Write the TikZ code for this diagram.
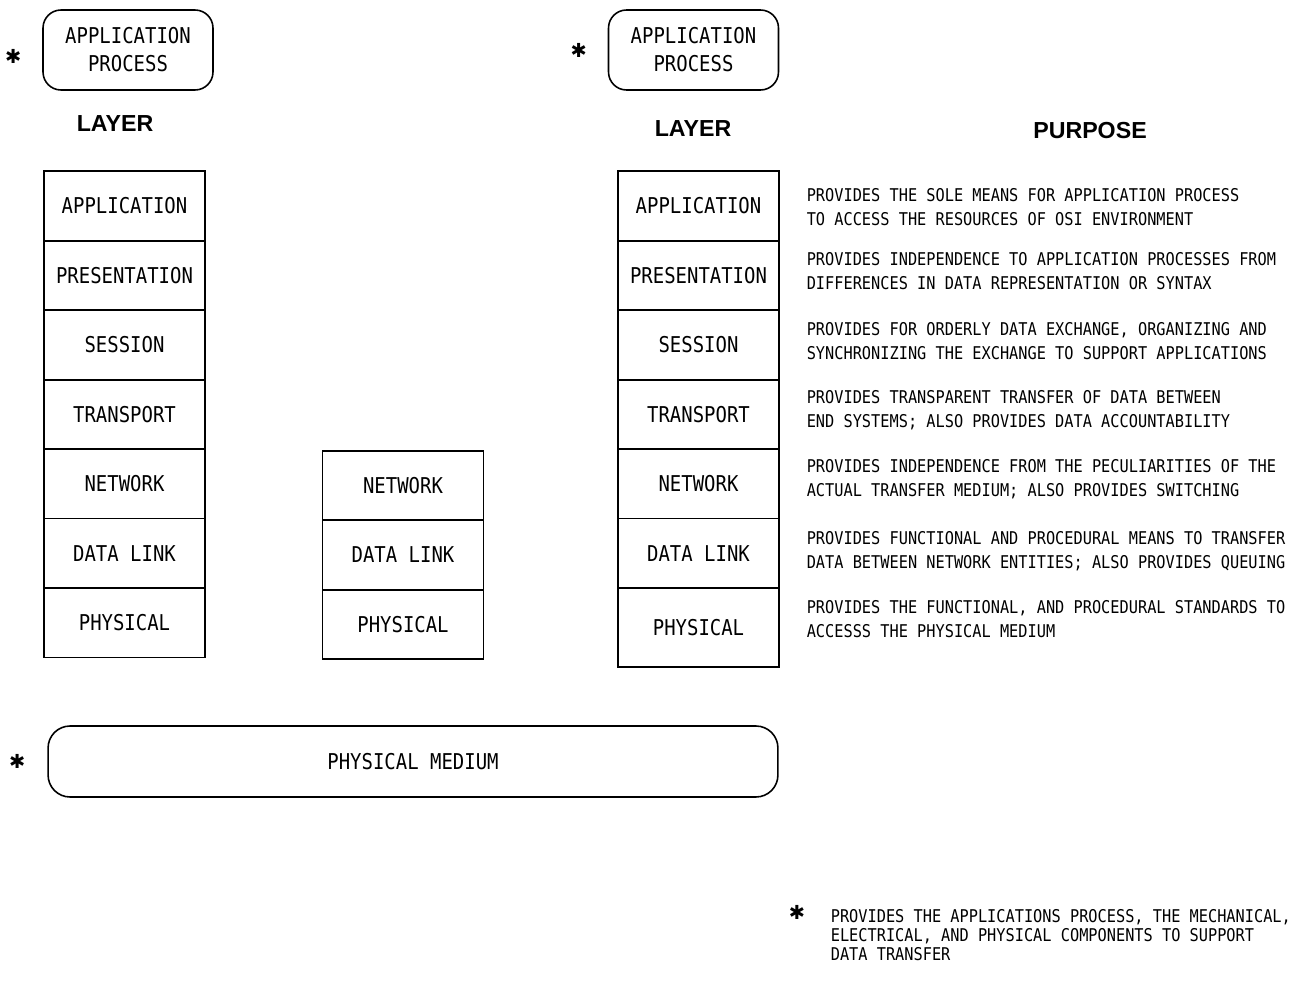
\documentclass[tikz,border=0pt]{standalone}
\usepackage{fontspec}
\usepackage{tikz}
\usetikzlibrary{positioning}
\newfontfamily\plotfont[FakeStretch=0.87]{DejaVu Sans Mono}
\newfontfamily\headfamily{Liberation Sans}
\newfontfamily\symfont{DejaVu Sans}
\newcommand{\boxfont}{\plotfont\fontsize{12.4}{16}\selectfont}
\newcommand{\purposefont}{\plotfont\fontsize{10}{13.5}\selectfont}
\newcommand{\notefont}{\plotfont\fontsize{10}{10.6}\selectfont}
\newcommand{\headfont}{\headfamily\bfseries\fontsize{13.2}{16}\selectfont}

\begin{document}
\begin{tikzpicture}[x=0.02cm, y=-0.02cm, node distance=0pt, line width=0.9pt]
  \tikzstyle{layerbox}=[draw,outer sep=0pt,inner sep=0pt,minimum width=3.22cm,minimum height=1.39cm,font=\boxfont]
  \tikzstyle{procbox}=[draw,rounded corners=0.36cm,outer sep=0pt,minimum width=3.4cm,minimum height=1.6cm,align=center,font=\boxfont]
  \tikzstyle{mediumbox}=[draw,rounded corners=0.44cm,outer sep=0pt,minimum width=14.6cm,minimum height=1.42cm,font=\boxfont]
  \tikzstyle{purpose}=[anchor=west,align=left,inner sep=0pt,font=\purposefont]
  \tikzstyle{heading}=[font=\headfont]
  \tikzstyle{starmark}=[inner sep=0pt,font=\symfont\bfseries\fontsize{11}{11}\selectfont]
  \useasboundingbox (0,0) rectangle (1297,989);
  % application process boxes
  \node[procbox] (lproc) at (128,50) {APPLICATION\\PROCESS};
  \node[starmark,left=0.42cm of lproc,yshift=-0.12cm] (lstar) {✱};
  \node[procbox] (rproc) at (693.5,50) {APPLICATION\\PROCESS};
  \node[starmark,left=0.42cm of rproc] (rstar) {✱};
  \node[heading] (llayer) at (115,124) {LAYER};
  \node[heading] (rlayer) at (693,129) {LAYER};
  \node[heading] (purp) at (1090,131) {PURPOSE};
  % end system stack
  \node[layerbox] (lapp) at (124.5,206) {APPLICATION};
  \node[layerbox,below=of lapp] (lpres) {PRESENTATION};
  \node[layerbox,below=of lpres] (lsess) {SESSION};
  \node[layerbox,below=of lsess] (ltrans) {TRANSPORT};
  \node[layerbox,below=of ltrans] (lnet) {NETWORK};
  \node[layerbox,below=of lnet] (llink) {DATA LINK};
  \node[layerbox,below=of llink] (lphys) {PHYSICAL};
  % relay stack
  \node[layerbox] (mnet) at (403,485.5) {NETWORK};
  \node[layerbox,below=of mnet] (mlink) {DATA LINK};
  \node[layerbox,below=of mlink] (mphys) {PHYSICAL};
  % end system stack with purposes
  \node[layerbox] (rapp) at (698.5,206) {APPLICATION};
  \node[layerbox,below=of rapp] (rpres) {PRESENTATION};
  \node[layerbox,below=of rpres] (rsess) {SESSION};
  \node[layerbox,below=of rsess] (rtrans) {TRANSPORT};
  \node[layerbox,below=of rtrans] (rnet) {NETWORK};
  \node[layerbox,below=of rnet] (rlink) {DATA LINK};
  \node[layerbox,below=of rlink,minimum height=1.58cm] (rphys) {PHYSICAL};
  \node[purpose,right=0.54cm of rapp,yshift=-0.02cm] (papp) {PROVIDES THE SOLE MEANS FOR APPLICATION PROCESS\\TO ACCESS THE RESOURCES OF OSI ENVIRONMENT};
  \node[purpose,right=0.54cm of rpres,yshift=0.09cm] (ppres) {PROVIDES INDEPENDENCE TO APPLICATION PROCESSES FROM\\DIFFERENCES IN DATA REPRESENTATION OR SYNTAX};
  \node[purpose,right=0.54cm of rsess,yshift=0.08cm] (psess) {PROVIDES FOR ORDERLY DATA EXCHANGE, ORGANIZING AND\\SYNCHRONIZING THE EXCHANGE TO SUPPORT APPLICATIONS};
  \node[purpose,right=0.54cm of rtrans,yshift=0.08cm] (ptrans) {PROVIDES TRANSPARENT TRANSFER OF DATA BETWEEN\\END SYSTEMS; ALSO PROVIDES DATA ACCOUNTABILITY};
  \node[purpose,right=0.54cm of rnet,yshift=0.09cm] (pnet) {PROVIDES INDEPENDENCE FROM THE PECULIARITIES OF THE\\ACTUAL TRANSFER MEDIUM; ALSO PROVIDES SWITCHING};
  \node[purpose,right=0.54cm of rlink,yshift=0.05cm] (plink) {PROVIDES FUNCTIONAL AND PROCEDURAL MEANS TO TRANSFER\\DATA BETWEEN NETWORK ENTITIES; ALSO PROVIDES QUEUING};
  \node[purpose,right=0.54cm of rphys,yshift=0.17cm] (pphys) {PROVIDES THE FUNCTIONAL, AND PROCEDURAL STANDARDS TO\\ACCESSS THE PHYSICAL MEDIUM};
  % medium
  \node[mediumbox] (medium) at (413,761.5) {PHYSICAL MEDIUM};
  \node[starmark,left=0.44cm of medium] (mstar) {✱};
  % footnote
  \node[starmark] (fstar) at (797,912) {✱};
  \node[purpose,font=\notefont] (fnote) at (830,935) {PROVIDES THE APPLICATIONS PROCESS, THE MECHANICAL,\\ELECTRICAL, AND PHYSICAL COMPONENTS TO SUPPORT\\DATA TRANSFER};
\end{tikzpicture}
\end{document}
